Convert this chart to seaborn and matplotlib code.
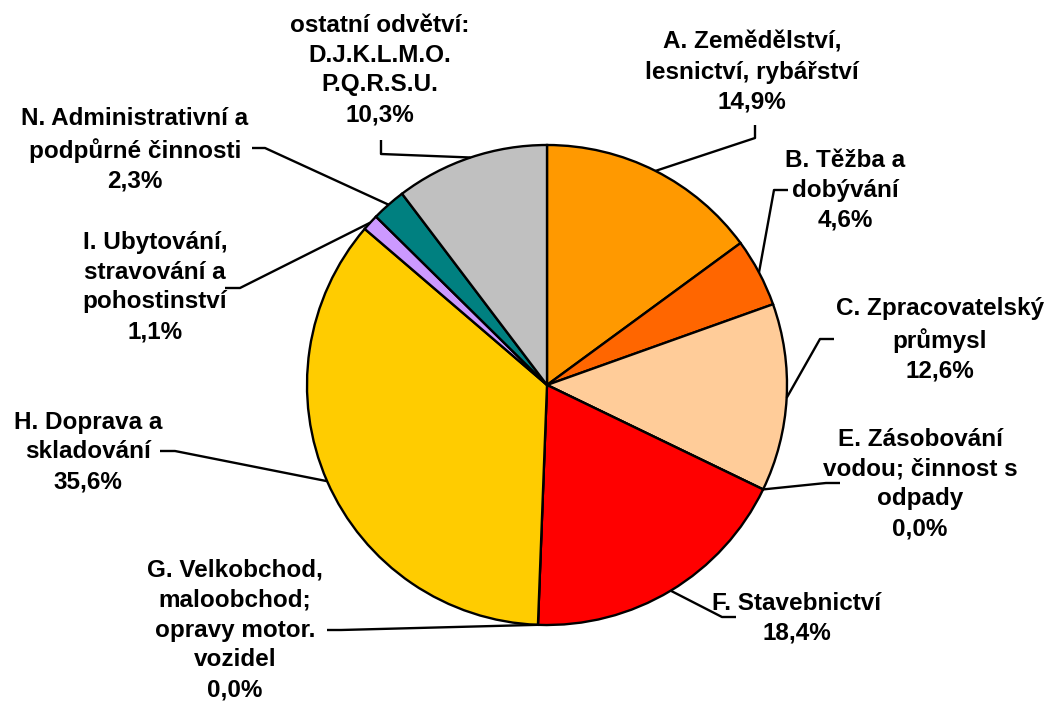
import matplotlib
matplotlib.use("Agg")
import matplotlib.pyplot as plt
import seaborn as sns
import numpy as np

W, H = 1046, 702

# data: share of sectors (clockwise from top)
labels = [
    "A. Zemědělství,\nlesnictví, rybářství",
    "B. Těžba a\ndobývání",
    "C. Zpracovatelský\nprůmysl",
    "E. Zásobování\nvodou; činnost s\nodpady",
    "F. Stavebnictví",
    "G. Velkobchod,\nmaloobchod;\nopravy motor.\nvozidel",
    "H. Doprava a\nskladování",
    "I. Ubytování,\nstravování a\npohostinství",
    "N. Administrativní a\npodpůrné činnosti",
    "ostatní odvětví:\nD.J.K.L.M.O.\nP.Q.R.S.U.",
]
shares = [14.9, 4.6, 12.6, 0.0, 18.4, 0.0, 35.6, 1.1, 2.3, 10.3]
colors = ["#FF9900", "#FF6600", "#FFCC99", "#3366FF", "#FF0000",
          "#99CC00", "#FFCC00", "#CC99FF", "#008080", "#C0C0C0"]

# label layout in pixel coords: text centre, leader elbow, leader end
text_pos = [(752, 72), (845, 190), (940, 340), (920, 484), (797, 618),
            (235, 630), (88, 452), (155, 287), (135, 150), (380, 70)]
elbows = [(755, 138), (774, 190), (820, 339), (826, 483), (722, 617),
          (341, 630), (175, 451), (240, 288), (265, 148), (381, 154)]
ends = [(755, 125), (788, 190), (834, 339), (840, 483), (736, 617),
        (327, 630), (160, 451), (225, 288), (252, 148), (381, 140)]

CX, CY, R = 547, 385, 240

sns.set_theme(style="white")
plt.rcParams["font.family"] = ["Liberation Sans", "DejaVu Sans"]


def py(y):
    return H - y


fig = plt.figure(figsize=(W / 100, H / 100), dpi=100)
ax = fig.add_axes([0, 0, 1, 1])

wedges, _ = ax.pie(
    shares,
    colors=colors,
    startangle=90,
    counterclock=False,
    center=(CX, py(CY)),
    radius=R,
    wedgeprops=dict(edgecolor="black", linewidth=1.7),
    frame=True,
)
ax.set_xlim(0, W)
ax.set_ylim(0, H)
ax.set_aspect("equal")
ax.axis("off")

for w, lab, val, tp, el, en in zip(wedges, labels, shares, text_pos, elbows, ends):
    ang = np.deg2rad((w.theta1 + w.theta2) / 2)
    ax_x = CX + R * np.cos(ang)
    ax_y = py(CY) + R * np.sin(ang)
    ax.plot([ax_x, el[0], en[0]], [ax_y, py(el[1]), py(en[1])],
            color="black", lw=1.7, solid_capstyle="butt", zorder=3)
    txt = lab + "\n" + f"{val:.1f}".replace(".", ",") + "%"
    ax.text(tp[0], py(tp[1]), txt, ha="center", va="center",
            fontsize=17.5, fontweight="bold", fontfamily="Liberation Sans",
            linespacing=1.38, color="black")

fig.savefig("out.png", dpi=100)
